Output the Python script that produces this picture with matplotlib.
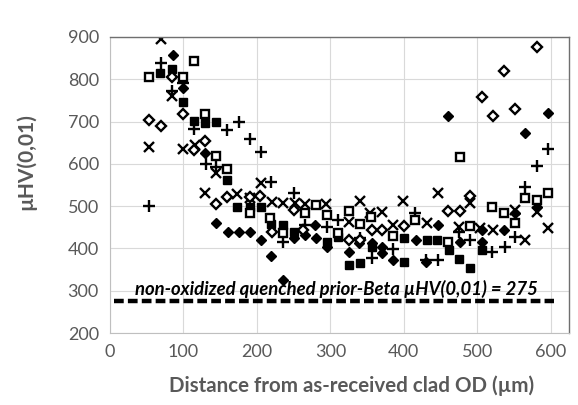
import matplotlib
matplotlib.use("Agg")
import matplotlib.pyplot as plt

plt.rcParams['font.family'] = ['Lato', 'DejaVu Sans']
plt.rcParams['lines.scale_dashes'] = False

# ---- data ----
cross_x = [53, 70, 85, 100, 116, 129, 145, 173, 191, 205, 220, 236, 252, 266, 294, 325, 341, 354, 370, 386, 399, 432, 447, 475, 490, 504, 522, 551, 565, 581, 597]
cross_y = [640, 895, 760, 635, 644, 531, 578, 529, 519, 554, 510, 507, 507, 505, 505, 462, 512, 483, 487, 455, 512, 460, 531, 451, 507, 448, 443, 491, 420, 486, 448]

plus_x = [53, 70, 85, 100, 114, 131, 145, 159, 175, 191, 206, 219, 235, 251, 265, 295, 311, 341, 357, 386, 415, 430, 446, 475, 490, 520, 538, 552, 565, 581, 597]
plus_y = [500, 838, 773, 791, 682, 600, 592, 680, 699, 659, 628, 557, 415, 531, 455, 451, 467, 424, 377, 399, 484, 372, 372, 439, 420, 391, 404, 427, 546, 595, 634]

fsq_x = [68, 84, 99, 114, 130, 144, 159, 173, 190, 205, 219, 235, 250, 295, 311, 325, 340, 357, 400, 400, 431, 445, 462, 475, 490, 507]
fsq_y = [815, 824, 746, 701, 696, 699, 562, 498, 498, 498, 458, 455, 439, 415, 427, 361, 366, 404, 368, 424, 420, 420, 396, 375, 353, 396]

fdi_x = [86, 100, 129, 144, 161, 176, 191, 205, 219, 235, 251, 266, 279, 281, 295, 325, 339, 357, 370, 370, 386, 417, 430, 447, 460, 477, 507, 507, 537, 551, 565, 581, 597]
fdi_y = [857, 779, 626, 461, 439, 439, 439, 420, 382, 325, 424, 432, 456, 424, 403, 391, 413, 413, 404, 389, 372, 420, 368, 455, 713, 415, 415, 443, 443, 484, 673, 498, 720]

osq_x = [53, 100, 114, 129, 144, 159, 190, 218, 235, 265, 281, 295, 311, 325, 341, 355, 386, 415, 460, 476, 490, 520, 536, 552, 565, 581, 597]
osq_y = [805, 805, 843, 718, 618, 588, 484, 472, 436, 484, 503, 479, 436, 488, 458, 475, 430, 467, 415, 616, 453, 498, 484, 460, 519, 514, 531]

odi_x = [53, 69, 84, 100, 114, 129, 144, 159, 191, 204, 220, 251, 263, 325, 341, 357, 370, 400, 460, 476, 490, 507, 522, 537, 551, 581]
odi_y = [703, 689, 805, 718, 632, 654, 505, 521, 521, 523, 439, 491, 443, 420, 420, 443, 443, 452, 488, 488, 524, 758, 713, 819, 730, 876]

ref_x = [5, 605]
ref_y = [275, 275]
ref_label = "non-oxidized quenched prior-Beta \u00b5HV(0,01) = 275"

x_ticks = [0, 100, 200, 300, 400, 500, 600]
y_ticks = [200, 300, 400, 500, 600, 700, 800, 900]

W, H = 578, 405
fig = plt.figure(figsize=(W / 100, H / 100), dpi=100)
ax = fig.add_axes([110 / W, 1 - 333 / H, (569 - 110) / W, (333 - 37) / H])

ax.set_xlim(0, 625)
ax.set_ylim(200, 900)
ax.set_xticks(x_ticks)
ax.set_yticks(y_ticks)
ax.grid(True, color='#d9d9d9', linewidth=0.8)
ax.set_axisbelow(True)
ax.tick_params(length=0, labelsize=13, labelcolor='#595959', pad=8)
for s in ['left', 'bottom']:
    ax.spines[s].set_color('#bfbfbf')
    ax.spines[s].set_linewidth(0.8)
for s in ['top', 'right']:
    ax.spines[s].set_color('#6f6f6f')
    ax.spines[s].set_linewidth(1.0)

ax.plot(ref_x, ref_y, color='black', linewidth=3.2, dashes=(7, 3))

ax.plot(cross_x, cross_y, linestyle='none', marker='x', ms=7.5, mew=1.7, color='black')
ax.plot(plus_x, plus_y, linestyle='none', marker='+', ms=9, mew=1.7, color='black')
ax.plot(fsq_x, fsq_y, linestyle='none', marker='s', ms=5.8, color='black')
ax.plot(fdi_x, fdi_y, linestyle='none', marker='D', ms=5.3, color='black')
ax.plot(osq_x, osq_y, linestyle='none', marker='s', ms=6, mew=1.7, mfc='white', mec='black')
ax.plot(odi_x, odi_y, linestyle='none', marker='D', ms=5.5, mew=1.7, mfc='white', mec='black')

ax.text(309, 304, ref_label, ha='center', va='center', fontsize=13.3,
        fontweight='bold', fontstyle='italic', color='black')

fig.text(352 / W, 1 - 386 / H, "Distance from as-received clad OD (\u00b5m)", ha='center', va='center',
         fontsize=14.8, fontweight='bold', color='#595959')
fig.text(26 / W, 1 - 162 / H, "\u00b5HV(0,01)", ha='center', va='center', rotation=90,
         fontsize=15, fontweight='bold', color='#595959')

fig.savefig('out.png', dpi=100)
